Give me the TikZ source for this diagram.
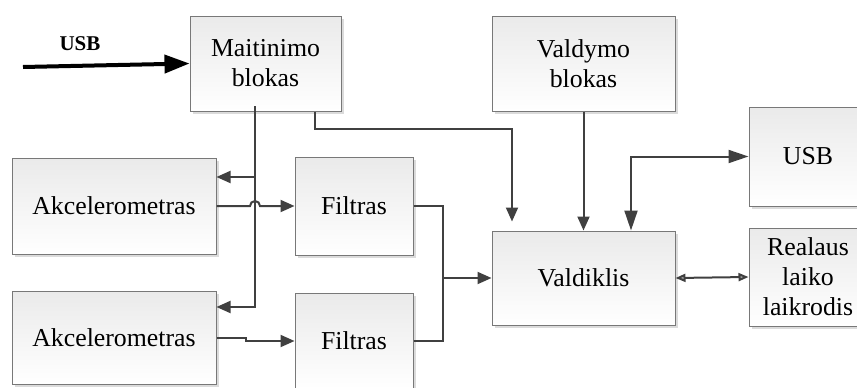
\documentclass[tikz,border=0pt]{standalone}
\usepackage{fontspec}
\setmainfont{Liberation Serif}
\usetikzlibrary{arrows.meta,shadows,calc}
\definecolor{wire}{RGB}{64,64,64}
\definecolor{edge}{RGB}{120,120,120}
\definecolor{shadetop}{RGB}{234,234,234}
\tikzset{
  block/.style={draw=edge, line width=1pt, top color=shadetop, bottom color=white,
    drop shadow={shadow xshift=3pt, shadow yshift=-3pt, fill=black!14, opacity=1},
    align=center, inner sep=2pt,
    font=\fontsize{25.8}{30}\selectfont},
  wireline/.style={draw=wire, line width=2pt},
  tip/.style={-{Triangle[length=14pt,width=12pt]}},
  bigtips/.style={{Triangle[length=20pt,width=13pt]}-{Triangle[length=20pt,width=13pt]}},
  smalltips/.style={{Triangle[length=10pt,width=8pt,fill=gray!70]}-{Triangle[length=10pt,width=8pt,fill=gray!70]}},
}
\begin{document}
\begin{tikzpicture}[x=1pt,y=-1pt]
\useasboundingbox (0,0) rectangle (857,388);
\clip (0,0) rectangle (857,388);

% blocks
\node[block, minimum width=151pt, minimum height=95pt] (pwr)  at (265.5,63.5) {Maitinimo\\blokas};
\node[block, minimum width=183pt, minimum height=95pt] (mcu)  at (583.5,63.5) {Valdymo\\blokas};
\node[block, minimum width=118pt, minimum height=99pt] (usb)  at (808,156.5)  {USB};
\node[block, minimum width=118pt, minimum height=98pt] (rtc)  at (808,277)    {Realaus\\laiko\\laikrodis};
\node[block, minimum width=183pt, minimum height=94pt] (ctrl) at (583.5,278)  {Valdiklis};
\node[block, minimum width=204pt, minimum height=96pt] (acc1) at (114,206)    {Akcelerometras};
\node[block, minimum width=204pt, minimum height=93pt] (acc2) at (114,337.5)  {Akcelerometras};
\node[block, minimum width=118pt, minimum height=98pt] (flt1) at (354,206)    {Filtras};
\node[block, minimum width=118pt, minimum height=96pt] (flt2) at (354,341)    {Filtras};

% external USB supply
\coordinate (usbin) at (23,67);
\node[font=\bfseries\fontsize{21}{25}\selectfont] (usblbl) at (80,44) {USB};
\draw[line width=4pt, -{Triangle[length=25pt,width=18pt]}] (usbin) -- (pwr.west);

% power distribution to the sensors
\coordinate (pdrop) at (255,106);
\draw[wireline, tip] (pdrop) |- ([yshift=29pt]acc1.east);
\draw[wireline, tip] (pdrop) |- ([yshift=30.5pt]acc2.east);

% sensors to filters
\draw[wireline, tip] (acc1.east) -- ($(pdrop |- acc1.east)+(-5,0)$)
  arc[start angle=180, end angle=0, radius=5pt] -- (flt1.west);
\draw[wireline, tip] (acc2.east) -- ++(29,0) |- (flt2.west);

% filters to controller
\coordinate (merge) at (443,278);
\draw[wireline] (flt1.east) -| (merge);
\draw[wireline] (flt2.east) -| (merge);
\draw[wireline, tip] (merge) -- (ctrl.west);

% power and control blocks to controller
\draw[wireline, tip] ([xshift=49.5pt]pwr.south) -- ++(0,17) -| ([xshift=-71.5pt,yshift=9pt]ctrl.north);
\draw[wireline, tip] (mcu.south) -- (ctrl.north);

% controller peripherals
\draw[wireline, bigtips] ([xshift=47.5pt]ctrl.north) |- (usb.west);
\draw[wireline, smalltips] (ctrl.east) -- (rtc.west);
\end{tikzpicture}
\end{document}
